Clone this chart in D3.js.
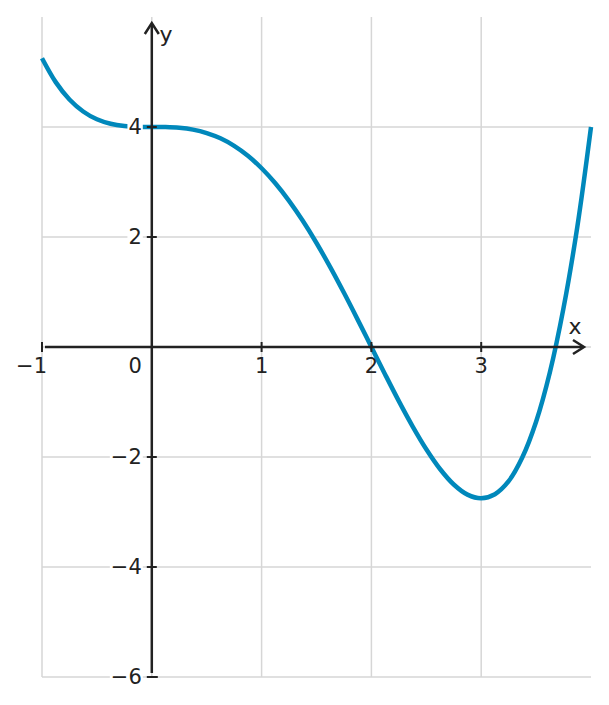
<!DOCTYPE html>
<html><head><meta charset="utf-8">
<script src="https://cdn.jsdelivr.net/npm/d3@7"></script>
<style>body{margin:0;background:#fff}svg{display:block}text{font-family:"DejaVu Sans",sans-serif}</style>
</head><body><svg id="c" width="609" height="705"></svg>
<script>
const xValues = [-1,-0.875,-0.75,-0.625,-0.5,-0.375,-0.25,-0.125,0,0.125,0.25,0.375,0.5,0.625,0.75,0.875,1,1.125,1.25,1.375,1.5,1.625,1.75,1.875,2,2.125,2.25,2.375,2.5,2.625,2.75,2.875,3,3.125,3.25,3.375,3.5,3.625,3.75,3.875,4];
const yValues = [5.25,4.816,4.50,4.282,4.14,4.058,4.017,4.002,4,3.998,3.985,3.952,3.89,3.794,3.657,3.477,3.25,2.977,2.657,2.294,1.891,1.452,0.985,0.498,0,-0.498,-0.984,-1.442,-1.859,-2.218,-2.50,-2.684,-2.75,-2.676,-2.44,-2.006,-1.36,-0.465,0.71,2.18,4];
const xTicks = [-1,0,1,2,3];
const yTicks = [4,2,-2,-4,-6];
const xGrid = [-1,0,1,2,3];
const yGrid = [4,2,0,-2,-4,-6];

const svg = d3.select("#c");
const x = d3.scaleLinear().domain([-1,4]).range([42,591]);
const y = d3.scaleLinear().domain([-6,6]).range([677,17]);
const axisColor = "#222", gridColor = "#d6d6d6";
const fmt = v => v < 0 ? "\u2212" + Math.abs(v) : String(v);

const g = svg.append("g");
g.selectAll(".vg").data(xGrid).join("line")
  .attr("x1", d=>x(d)).attr("x2", d=>x(d)).attr("y1", y(6)).attr("y2", y(-6))
  .attr("stroke", gridColor).attr("stroke-width", 1.5);
g.selectAll(".hg").data(yGrid).join("line")
  .attr("x1", x(-1)).attr("x2", x(4)).attr("y1", d=>y(d)).attr("y2", d=>y(d))
  .attr("stroke", gridColor).attr("stroke-width", 1.5);

// curve
const pts = xValues.map((v,i)=>[v,yValues[i]]);
svg.append("path").datum(pts)
  .attr("d", d3.line().x(d=>x(d[0])).y(d=>y(d[1])).curve(d3.curveCatmullRom.alpha(0.5)))
  .attr("fill","none").attr("stroke","#0088bb").attr("stroke-width",4.5).attr("stroke-linecap","butt");

// axes
const ax = svg.append("g").attr("stroke", axisColor).attr("stroke-width", 2.5).attr("fill","none");
ax.append("line").attr("x1", x(-1)+3).attr("x2", 583).attr("y1", y(0)).attr("y2", y(0));
ax.append("path").attr("d", `M${573},${y(0)-7} L${584},${y(0)} L${573},${y(0)+7}`);
ax.append("line").attr("x1", x(0)).attr("x2", x(0)).attr("y1", 24).attr("y2", y(-6)-4);
ax.append("path").attr("d", `M${x(0)-7},${34} L${x(0)},${23} L${x(0)+7},${34}`);

// ticks
const tk = svg.append("g").attr("stroke", axisColor).attr("stroke-width", 2);
tk.selectAll(".xt").data(xTicks.filter(d=>d!==0)).join("line")
  .attr("x1", d=>x(d)).attr("x2", d=>x(d)).attr("y1", y(0)-5).attr("y2", y(0)+5);
tk.selectAll(".yt").data(yTicks).join("line")
  .attr("x1", x(0)-5).attr("x2", d=>x(0)+(d===-6?6:5)).attr("y1", d=>y(d)).attr("y2", d=>y(d));

// tick labels with white halo
const lg = svg.append("g");
xTicks.forEach(d=>{
  const t = lg.append("text").text(fmt(d)).attr("font-size",21).attr("fill","#222");
  if (d===0) t.attr("x", x(0)-10).attr("y", y(0)+26).attr("text-anchor","end");
  else if (d===-1) t.attr("x", x(-1)+5).attr("y", y(0)+26).attr("text-anchor","end");
  else t.attr("x", x(d)).attr("y", y(0)+26).attr("text-anchor","middle");
});
yTicks.forEach(d=>{
  const t = lg.append("text").text(fmt(d)).attr("font-size",21).attr("fill","#222")
    .attr("x", x(0)-10).attr("y", y(d)).attr("dy","0.35em").attr("text-anchor","end");
  const bb = t.node().getBBox();
  lg.insert("rect", "text").attr("x", bb.x-1).attr("y", bb.y+2).attr("width", bb.width+2).attr("height", bb.height-4).attr("fill","#fff");
});
// axis names
svg.append("text").text("x").attr("x", 575).attr("y", 334).attr("text-anchor","middle").attr("font-size",22).attr("fill","#222");
svg.append("text").text("y").attr("x", 166).attr("y", 42).attr("text-anchor","middle").attr("font-size",22).attr("fill","#222");
</script></body></html>
